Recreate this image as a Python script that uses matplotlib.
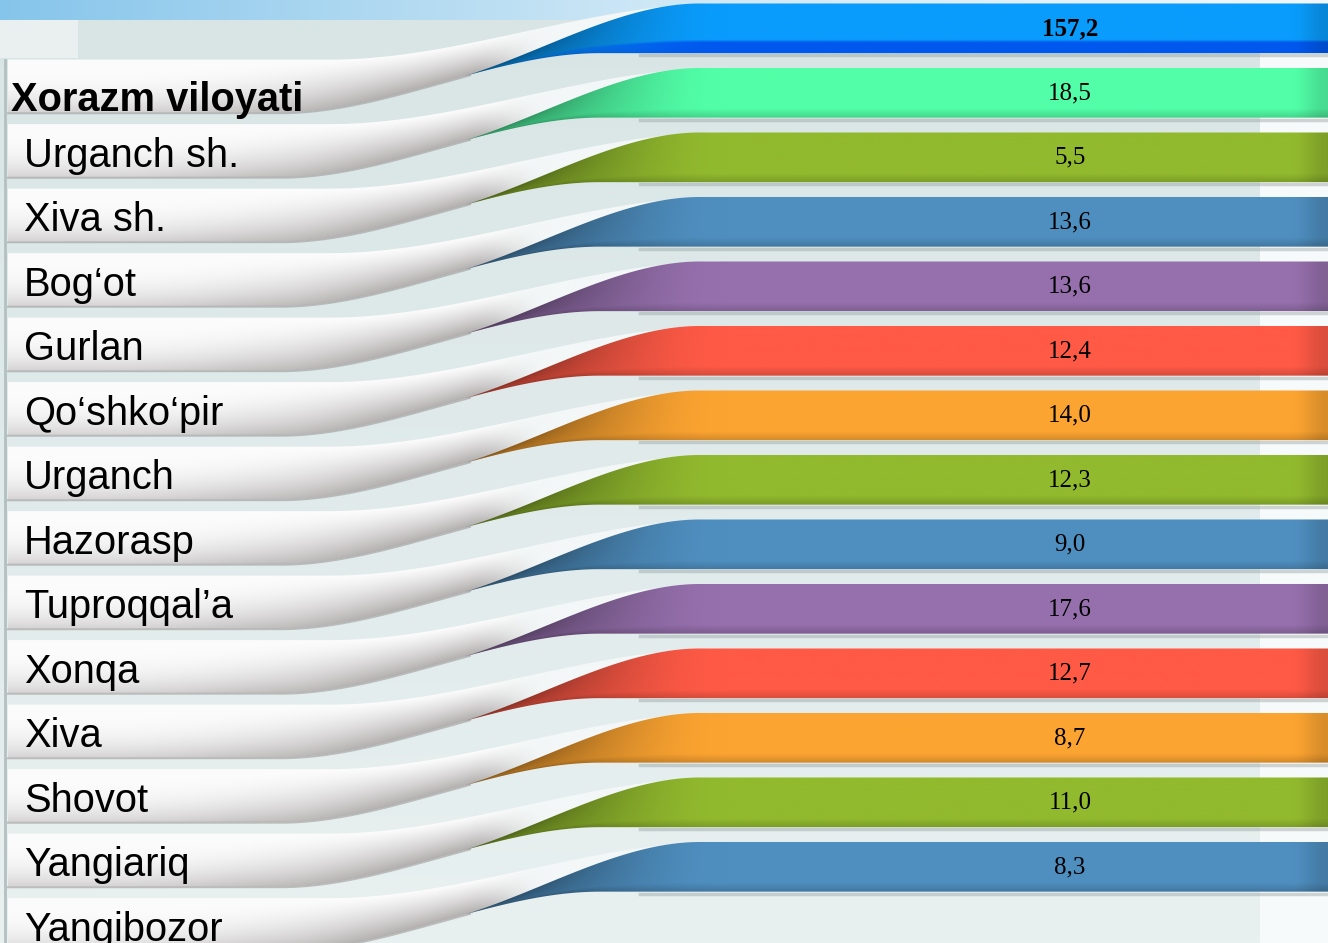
import numpy as np
import matplotlib
matplotlib.use("Agg")
import matplotlib.pyplot as plt
from matplotlib.patches import Polygon, Rectangle
from matplotlib.colors import to_rgb

# ---------------- data ----------------
labels = ["Xorazm viloyati", "Urganch sh.", "Xiva sh.", "Bog\u2018ot", "Gurlan",
          "Qo\u2018shko\u2018pir", "Urganch", "Hazorasp", "Tuproqqal\u2019a", "Xonqa",
          "Xiva", "Shovot", "Yangiariq", "Yangibozor"]
values = [157.2, 18.5, 5.5, 13.6, 13.6, 12.4, 14.0, 12.3, 9.0, 17.6, 12.7, 8.7, 11.0, 8.3]
ribbon_colors = ["#0a9cfc", "#52ffa8", "#92ba2e", "#4f8fc0", "#9670ad", "#ff5a46",
                 "#fca431", "#92ba2e", "#4f8fc0", "#9670ad", "#ff5a46", "#fca431",
                 "#92ba2e", "#4f8fc0"]
bottom_stripe = {0: "#0058ee"}

# ---------------- layout ----------------
W, H = 1328, 943
ROW_PX, TOP_PX = 64.5, 28.0
fig = plt.figure(figsize=(W / 100, H / 100), dpi=100)
ax = fig.add_axes([0, 0, 1, 1])
y_top = -TOP_PX / ROW_PX
y_bot = y_top + H / ROW_PX
ax.set_xlim(0, W)
ax.set_ylim(y_bot, y_top)
ax.axis("off")


def py(px):
    return (px - TOP_PX) / ROW_PX


def smooth(t):
    t = np.clip(t, 0, 1)
    return t * t * (3 - 2 * t)


# background
bg_top, bg_bot = np.array(to_rgb("#d9e5e5")), np.array(to_rgb("#e8f0f0"))
g = np.linspace(0, 1, 200)[:, None, None]
bg = (1 - g) * bg_top + g * bg_bot
bg = np.repeat(bg, 2, axis=1)
ax.imshow(bg, extent=(0, W, y_bot, y_top), origin="upper", aspect="auto", zorder=0)

# top strip
c1, c2, c3 = [np.array(to_rgb(c)) for c in ("#86c5eb", "#cfe8f6", "#f2f8fb")]
gx = np.linspace(0, 1, 400)[None, :, None]
strip = np.where(gx < 0.5, c1 + (c2 - c1) * (gx / 0.5), c2 + (c3 - c2) * ((gx - 0.5) / 0.5))
ax.imshow(strip, extent=(0, W, py(20), py(0)), origin="upper", aspect="auto", zorder=0.5)
ax.add_patch(Rectangle((0, py(20)), 78, py(58) - py(20), color="#eaf0f0", lw=0, zorder=0.6))
ax.add_patch(Rectangle((1260, py(20)), W - 1260, y_bot - py(20), color="#f7fafa", lw=0, zorder=0.6))
ax.plot([5, 5], [py(60), y_bot], color="#b4c0c0", lw=2, zorder=0.7)

X_TIP = 465.0


def T_edge(x, r):
    return r - 0.51 - 0.87 * smooth((x - 330) / 390)


def B_edge(x, r):
    return r + 0.31 - 0.92 * smooth((x - 280) / 320)


def C_edge(x, r):
    b0 = B_edge(X_TIP, r)
    t = np.clip((x - X_TIP) / 235, 0, 1)
    f = 0.5 * (smooth(t) + 1 - (1 - t) ** 2)
    return b0 + ((r - 1 - 0.38) - b0) * f


white = np.array(to_rgb("#fcfcfc"))
grey = np.array(to_rgb("#b0acac"))
back = np.array(to_rgb("#f3f7f7"))

for i, (lab, val, col) in enumerate(zip(labels, values, ribbon_colors)):
    r = i + 1  # row of the white left part; colored part sits on row i
    # ---- white left part ----
    xw = np.linspace(8, 720, 400)
    verts = np.concatenate([np.column_stack([xw, T_edge(xw, r)]),
                            np.column_stack([xw[::-1], B_edge(xw[::-1], r)])])
    poly = Polygon(verts, closed=True, facecolor="none", edgecolor="none", zorder=2)
    ax.add_patch(poly)
    y0, y1 = r - 1.42, r + 0.34
    X = np.linspace(8, 720, 360)[None, :]
    Y = np.linspace(y0, y1, 140)[:, None]
    Tg, Bg = T_edge(X, r), B_edge(X, r)
    v = np.clip((Y - Tg) / (Bg - Tg), 0, 1)
    wx = smooth((X - 100) / 300)
    expo = 3.0 - 1.8 * wx
    gg = (v ** expo) * (0.5 + 0.45 * wx)
    img = (1 - gg)[..., None] * white + gg[..., None] * grey
    fade = smooth((X - 470) / 80)[..., None]
    img = (1 - fade) * img + fade * back
    im = ax.imshow(img, extent=(8, 720, y1, y0), origin="upper", aspect="auto", zorder=2)
    im.set_clip_path(poly)
    xs_sh = np.linspace(8, 470, 200)
    ax.plot(xs_sh, B_edge(xs_sh, r) + 0.012, color="#9e9a9a", lw=1.4, alpha=0.6, zorder=2.2)

    # ---- colored right part ----
    xc = np.linspace(X_TIP, W, 500)
    verts = np.concatenate([np.column_stack([xc, C_edge(xc, r)]),
                            np.column_stack([xc[::-1], B_edge(xc[::-1], r)])])
    cpoly = Polygon(verts, closed=True, facecolor="none", edgecolor="none", zorder=3)
    ax.add_patch(cpoly)
    xsb = np.linspace(640, W, 200)
    ax.plot(xsb, B_edge(xsb, r) + 0.03, color="#8f9a9a", lw=2.5, alpha=0.4, zorder=2.6)
    ya, yb = (r - 1) - 0.42, (r - 1) + 0.80
    X = np.linspace(X_TIP, W, 430)[None, :]
    Y = np.linspace(ya, yb, 120)[:, None]
    Cg, Bg = C_edge(X, r), B_edge(X, r)
    v = np.clip((Y - Cg) / np.maximum(Bg - Cg, 1e-3), 0, 1)
    base = np.array(to_rgb(col))
    tw = 1 - smooth((X - X_TIP) / 260)
    fx = 1 - 0.34 * tw - 0.15 * tw * (1 - v)
    fv = 1 - 0.16 * np.clip((v - 0.82) / 0.18, 0, 1)
    fr = 1 - 0.14 * smooth((X - 1292) / 36)
    f = (fx * fv * fr)[..., None]
    img = np.clip(base * f, 0, 1)
    if i in bottom_stripe:
        dk = np.array(to_rgb(bottom_stripe[i]))
        m = (np.clip((v - 0.72) / 0.06, 0, 1) * (1 - tw))[..., None]
        img = (1 - m) * img + m * dk * fr[..., None]
    im = ax.imshow(img, extent=(X_TIP, W, yb, ya), origin="upper", aspect="auto", zorder=3)
    im.set_clip_path(cpoly)

    # ---- texts ----
    if i == 0:
        ax.text(11, r + 0.287, lab, fontsize=28.7, family="Liberation Sans",
                fontweight="bold", va="baseline", ha="left", zorder=5)
    else:
        ax.text(24, r + 0.155, lab, fontsize=28.7, family="Liberation Sans",
                va="baseline", ha="left", zorder=5)
    ax.text(1070, i + 0.01, f"{val:.1f}".replace(".", ","), fontsize=18,
            family="Liberation Serif", fontweight="bold" if i == 0 else "normal",
            ha="center", va="center", zorder=5)

fig.savefig("out.png", dpi=100)
